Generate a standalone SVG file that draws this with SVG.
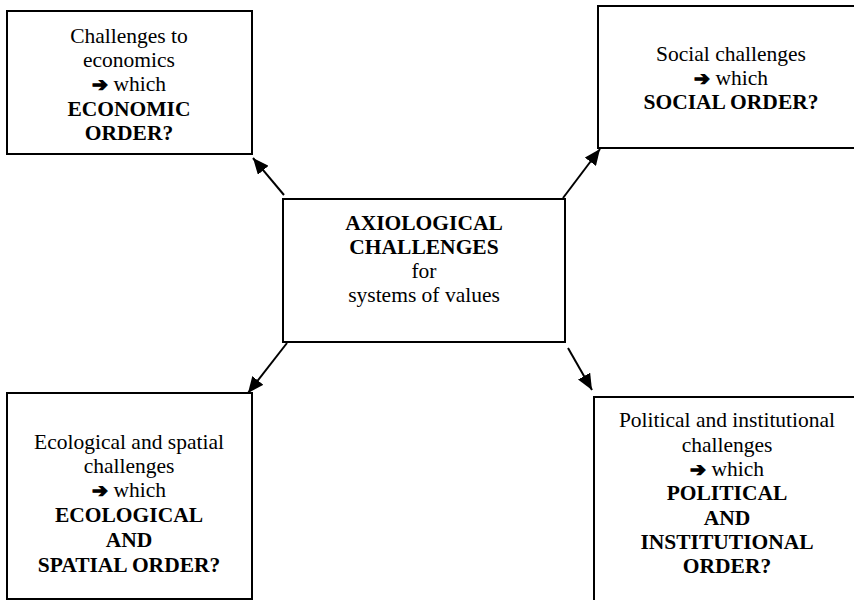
<svg xmlns="http://www.w3.org/2000/svg" width="854" height="600" viewBox="0 0 854 600">
<defs>
<marker id="ah" markerUnits="userSpaceOnUse" markerWidth="18" markerHeight="14" refX="16" refY="7" orient="auto">
<path d="M0,0 L16,7 L0,14 Z" fill="#000"/>
</marker>
<style>
.box{fill:#fff;stroke:#000;stroke-width:2}
text{font-family:"Liberation Serif","Times New Roman",serif;font-size:21.5px;fill:#000;text-anchor:middle}
.b{font-weight:bold}
.ar{font-family:"DejaVu Sans",sans-serif;font-weight:bold;font-size:19px;stroke:#000;stroke-width:1.2}
.c{stroke:#000;stroke-width:2;fill:none;marker-end:url(#ah)}
</style>
</defs>
<rect width="854" height="600" fill="#fff"/>
<g id="economic">
<rect class="box" x="7" y="11" width="245" height="143"/>
<text x="129" y="43">Challenges to</text>
<text x="129" y="67">economics</text>
<text x="129" y="91"><tspan class="ar">➔</tspan> which</text>
<text class="b" x="129" y="116">ECONOMIC</text>
<text class="b" x="129" y="140">ORDER?</text>
</g>
<g id="social">
<rect class="box" x="598" y="6" width="266" height="142"/>
<text x="731" y="61">Social challenges</text>
<text x="731" y="85"><tspan class="ar">➔</tspan> which</text>
<text class="b" x="731" y="109">SOCIAL ORDER?</text>
</g>
<g id="center">
<rect class="box" x="283" y="199" width="282" height="143"/>
<text class="b" x="424" y="230">AXIOLOGICAL</text>
<text class="b" x="424" y="254">CHALLENGES</text>
<text x="424" y="278">for</text>
<text x="424" y="302">systems of values</text>
</g>
<g id="ecological">
<rect class="box" x="7" y="393" width="245" height="206"/>
<text x="129" y="449">Ecological and spatial</text>
<text x="129" y="473">challenges</text>
<text x="129" y="497"><tspan class="ar">➔</tspan> which</text>
<text class="b" x="129" y="522">ECOLOGICAL</text>
<text class="b" x="129" y="547">AND</text>
<text class="b" x="129" y="572">SPATIAL ORDER?</text>
</g>
<g id="political">
<rect class="box" x="594" y="397" width="266" height="210"/>
<text x="727" y="427">Political and institutional</text>
<text x="727" y="452">challenges</text>
<text x="727" y="476"><tspan class="ar">➔</tspan> which</text>
<text class="b" x="727" y="500">POLITICAL</text>
<text class="b" x="727" y="525">AND</text>
<text class="b" x="727" y="549">INSTITUTIONAL</text>
<text class="b" x="727" y="573">ORDER?</text>
</g>
<g id="connectors">
<line class="c" x1="284" y1="195" x2="253" y2="158"/>
<line class="c" x1="563" y1="198" x2="600" y2="149"/>
<line class="c" x1="287" y1="343" x2="248" y2="393"/>
<line class="c" x1="568" y1="348" x2="592" y2="390"/>
</g>
</svg>
